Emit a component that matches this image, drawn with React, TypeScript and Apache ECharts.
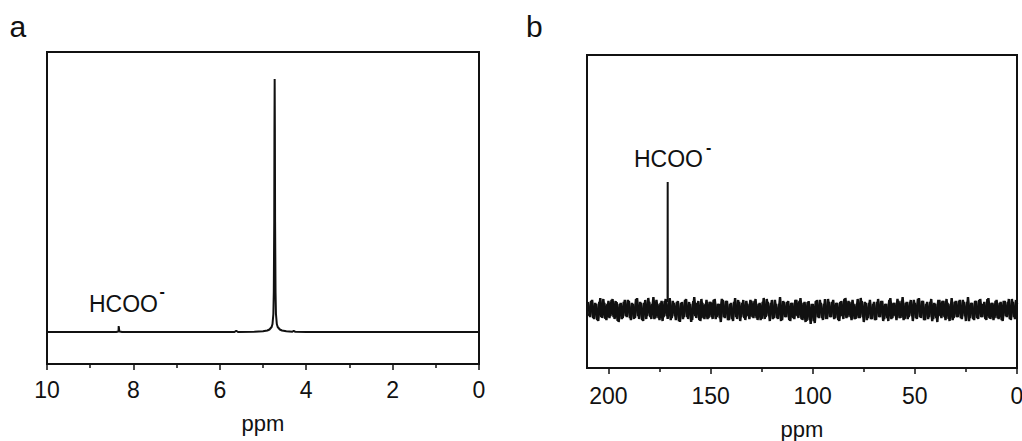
import React, { useEffect, useRef } from "react";
import * as echarts from "echarts";

// Axis ticks (ppm)
const ppmTicksA = [0, 2, 4, 6, 8, 10];
const ppmMinorTicksA = [1, 3, 5, 7, 9];
const ppmTicksB = [0, 50, 100, 150, 200];
const ppmMinorTicksB = [25, 75, 125, 175];

// Panel a: 1H spectrum [ppm, intensity]
const spectrumA: [number, number][] = [
  [10, 0], [8.4, 0], [8.345, 0.5], [8.34, 6], [8.33, 6], [8.325, 0.5], [8.26, 0],
  [5.66, 0], [5.62, 1.2], [5.58, 0], [5.2, 0.3], [5.0, 0.8], [4.9, 1.5], [4.85, 2.5],
  [4.8, 5], [4.78, 8], [4.76, 18], [4.75, 40], [4.74, 110], [4.735, 200], [4.73, 253],
  [4.725, 200], [4.72, 110], [4.71, 40], [4.7, 18], [4.68, 8], [4.66, 5], [4.61, 2.5],
  [4.56, 1.5], [4.46, 0.8], [4.32, 0.3], [4.29, 1.2], [4.25, 0.2], [4.0, 0], [0, 0],
];

// Panel b: 13C noise trace, one value per ppm from 210 down to 0
const noiseB = [
  8, -7, 10, -9, 6, -11, 12, -8, 7, -10, 9, -6, 11, -9, 8, -12, 7, -8, 10, -7,
  9, -10, 6, -8, 12, -9, 7, -11, 10, -6, 8, -9, 13, -8, 6, -10, 9, -7, 11, -9,
  12, -8, 7, -10, 9, -12, 8, -7, 11, -9, 6, -10, 13, -8, 9, -11, 7, -9, 10, -8,
  8, -9, 11, -7, 6, -12, 10, -8, 9, -10, 7, -11, 12, -9, 8, -7, 10, -10, 6, -9,
  9, -8, 11, -10, 7, -9, 12, -7, 8, -11, 10, -8, 6, -9, 13, -10, 8, -7, 9, -11,
  7, -9, 10, -8, 12, -10, 8, -11, 9, -14, 6, -13, 10, -8, 7, -10, 11, -9, 8, -7,
  10, -8, 7, -11, 9, -9, 12, -7, 8, -10, 6, -9, 11, -8, 9, -12, 7, -8, 10, -9,
  8, -10, 11, -7, 9, -9, 6, -11, 12, -8, 7, -10, 9, -8, 13, -9, 8, -7, 10, -11,
  7, -9, 12, -8, 9, -10, 8, -7, 11, -9, 6, -12, 10, -8, 9, -10, 7, -11, 12, -8,
  9, -7, 10, -9, 8, -11, 13, -8, 7, -10, 9, -9, 11, -7, 8, -10, 12, -9, 7, -8,
  10, -9, 8, -11, 9, -7, 11, -10, 8, -9, 7,
];
// second interleaved noise trace, values at ppm 209.5 down to 0.5
const noiseB2 = [
  -6, 9, -8, 7, -10, 8, -7, 11, -9, 6, -8, 10, -7, 9, -11, 6, -9, 8, -6, 10,
  -8, 7, -9, 11, -6, 8, -10, 7, -9, 12, -7, 6, -9, 10, -8, 7, -11, 9, -6, 8,
  -10, 9, -6, 8, -11, 7, -9, 10, -7, 8, -12, 9, -6, 7, -10, 11, -8, 6, -9, 8,
  -7, 10, -9, 6, -8, 11, -7, 9, -10, 6, -9, 8, -7, 10, -11, 7, -8, 9, -6, 10,
  -7, 9, -8, 6, -10, 8, -9, 11, -6, 7, -9, 10, -8, 6, -11, 9, -7, 8, -10, 7,
  -8, 10, -6, 9, -9, 7, -12, 8, -10, 6, -11, 9, -7, 10, -8, 6, -9, 11, -7, 8,
  -9, 7, -10, 8, -6, 11, -8, 9, -7, 10, -9, 6, -8, 12, -7, 8, -10, 7, -9, 6,
  -10, 8, -7, 9, -11, 6, -8, 10, -9, 7, -6, 11, -8, 9, -10, 7, -9, 8, -6, 10,
  -8, 11, -7, 9, -10, 6, -9, 8, -11, 7, -8, 10, -6, 9, -7, 11, -9, 6, -10, 8,
  -7, 9, -8, 10, -6, 8, -11, 7, -9, 9, -8, 10, -7, 6, -9, 11, -8, 7, -10, 9,
  -8, 7, -10, 9, -6, 8, -9, 11, -7, 10,
];
const noiseStartPpm = 210;

// Panel b: formate peak [ppm, intensity]
const peakB: [number, number][] = [
  [171.06, 8], [171.0, 128], [170.94, 8],
];

const FONT = "'Liberation Sans', Arial, sans-serif";
const INK = "#111";

export default function App() {
  const ref = useRef<HTMLDivElement>(null);

  useEffect(() => {
    document.body.style.margin = "0";
    if (!ref.current) return;
    const chart = echarts.init(ref.current, null, { renderer: "svg" });

    const noiseData = noiseB.map((v, i) => [noiseStartPpm - i, v]);
    const noiseData2 = noiseB2.map((v, i) => [noiseStartPpm - 0.5 - i, v]);

    const xMain = (gridIndex: number, max: number, ticks: number[], minor: number[], margin: number, nameGap: number) => [
      {
        type: "value",
        gridIndex,
        min: 0,
        max,
        inverse: true,
        position: "bottom",
        axisLine: { show: true, onZero: false, lineStyle: { color: INK, width: 2 } },
        axisTick: { show: true, inside: false, length: 6, customValues: ticks, lineStyle: { color: INK, width: 1.5 } },
        axisLabel: {
          show: true,
          customValues: ticks,
          margin,
          fontSize: 23,
          fontFamily: FONT,
          color: INK,
        },
        splitLine: { show: false },
        name: "ppm",
        nameLocation: "middle",
        nameGap,
        nameTextStyle: { fontSize: 22, fontFamily: FONT, color: INK },
      },
      {
        type: "value",
        gridIndex,
        min: 0,
        max,
        inverse: true,
        position: "bottom",
        axisLine: { show: false, onZero: false },
        axisTick: { show: true, inside: false, length: 4, customValues: minor, lineStyle: { color: INK, width: 1.5 } },
        axisLabel: { show: false },
        splitLine: { show: false },
      },
    ];

    const yAxis = (gridIndex: number, min: number, max: number) => ({
      type: "value",
      gridIndex,
      min,
      max,
      axisLine: { show: false },
      axisTick: { show: false },
      axisLabel: { show: false },
      splitLine: { show: false },
    });

    const noiseLine = { color: INK, width: 2.4 };

    chart.setOption({
      animation: false,
      grid: [
        { left: 47, top: 52, width: 432, height: 312, show: true, borderColor: INK, borderWidth: 2, backgroundColor: "transparent", outerBoundsMode: "none" },
        { left: 587, top: 55, width: 430, height: 313, show: true, borderColor: INK, borderWidth: 2, backgroundColor: "transparent", outerBoundsMode: "none" },
      ],
      xAxis: [
        ...xMain(0, 10, ppmTicksA, ppmMinorTicksA, 14, 48),
        ...xMain(1, 210.5, ppmTicksB, ppmMinorTicksB, 16, 50),
      ],
      yAxis: [yAxis(0, -32, 280), yAxis(1, -58, 255)],
      series: [
        {
          type: "line",
          xAxisIndex: 0,
          yAxisIndex: 0,
          data: spectrumA,
          showSymbol: false,
          lineStyle: { color: INK, width: 2 },
        },
        {
          type: "line",
          xAxisIndex: 2,
          yAxisIndex: 1,
          data: noiseData,
          showSymbol: false,
          lineStyle: noiseLine,
        },
        {
          type: "line",
          xAxisIndex: 2,
          yAxisIndex: 1,
          data: noiseData2,
          showSymbol: false,
          lineStyle: noiseLine,
        },
        {
          type: "line",
          xAxisIndex: 2,
          yAxisIndex: 1,
          data: peakB,
          showSymbol: false,
          lineStyle: { color: INK, width: 2 },
        },
      ],
      graphic: [
        { type: "text", x: 9.5, y: 26.6, style: { text: "a", fontSize: 30, fontFamily: FONT, fill: INK, verticalAlign: "middle" } },
        { type: "text", x: 526, y: 26.6, style: { text: "b", fontSize: 30, fontFamily: FONT, fill: INK, verticalAlign: "middle" } },
        { type: "text", x: 89, y: 303.5, style: { text: "HCOO", fontSize: 23, fontFamily: FONT, fill: INK, verticalAlign: "middle" } },
        { type: "text", x: 159.5, y: 291.6, style: { text: "-", fontSize: 16, fontFamily: FONT, fill: INK, verticalAlign: "middle", fontWeight: "bold" } },
        { type: "text", x: 634, y: 159.3, style: { text: "HCOO", fontSize: 23, fontFamily: FONT, fill: INK, verticalAlign: "middle" } },
        { type: "text", x: 706, y: 147.9, style: { text: "-", fontSize: 16, fontFamily: FONT, fill: INK, verticalAlign: "middle", fontWeight: "bold" } },
      ],
    });

    return () => chart.dispose();
  }, []);

  return <div ref={ref} style={{ width: 1022, height: 441 }} />;
}
